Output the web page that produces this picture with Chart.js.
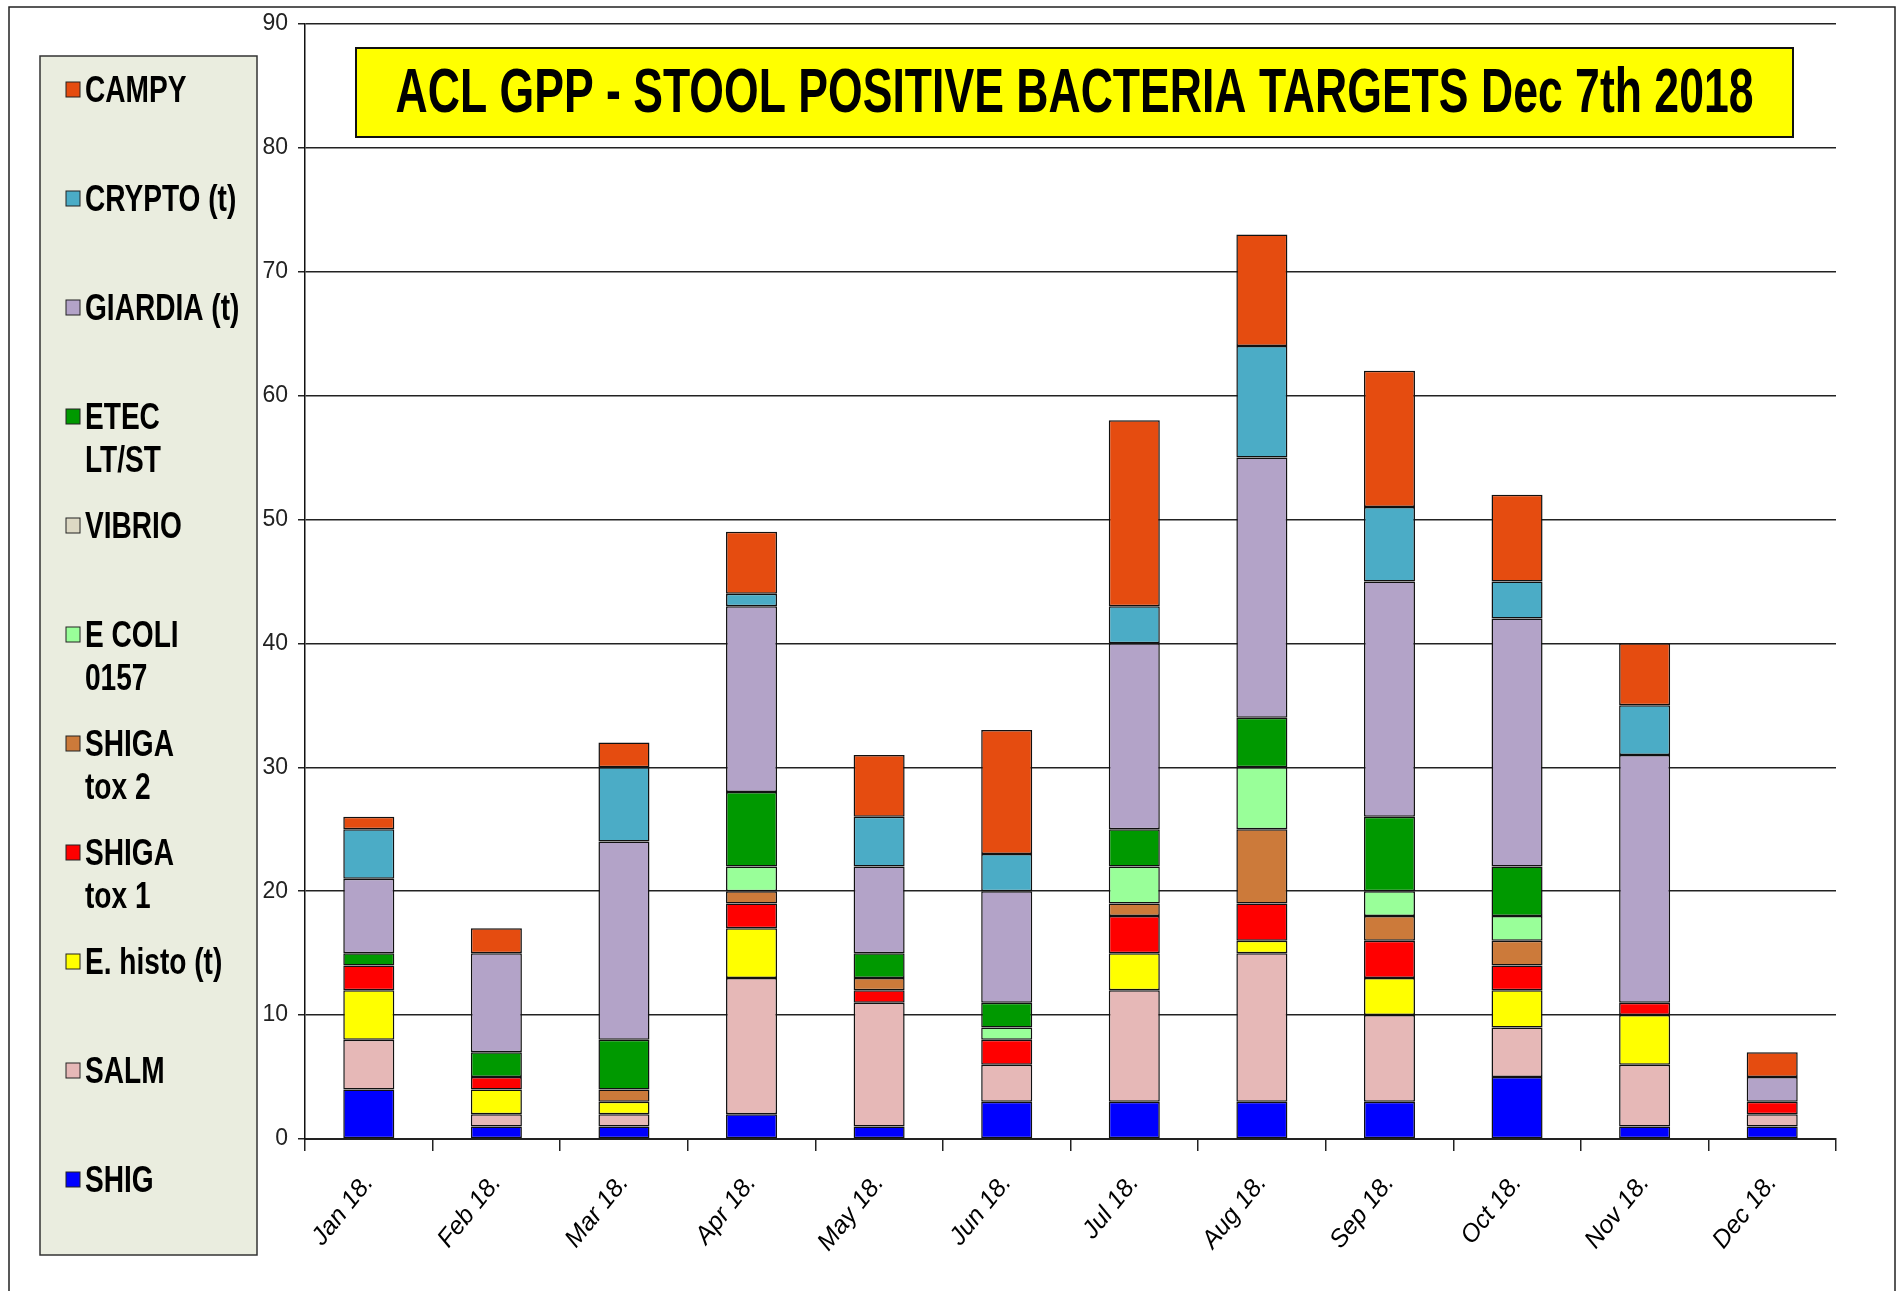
<!DOCTYPE html>
<html lang="en">
<head>
    <meta charset="UTF-8">
    <title>ACL GPP - Stool Positive Bacteria Targets</title>
    <script src="https://cdn.jsdelivr.net/npm/chart.js"></script>
    <style>
        body { margin: 0; background: #fff; }
        canvas { display: block; }
    </style>
</head>
<body>
    <canvas id="gppChart" width="1898" height="1291"></canvas>
    <script>
        const months = ['Jan 18.', 'Feb 18.', 'Mar 18.', 'Apr 18.', 'May 18.', 'Jun 18.',
                        'Jul 18.', 'Aug 18.', 'Sep 18.', 'Oct 18.', 'Nov 18.', 'Dec 18.'];

        // stacked bottom -> top
        const shig      = [4, 1, 1, 2, 1, 3, 3, 3, 3, 5, 1, 1];
        const salm      = [4, 1, 1, 11, 10, 3, 9, 12, 7, 4, 5, 1];
        const eHisto    = [4, 2, 1, 4, 0, 0, 3, 1, 3, 3, 4, 0];
        const shigaTox1 = [2, 1, 0, 2, 1, 2, 3, 3, 3, 2, 1, 1];
        const shigaTox2 = [0, 0, 1, 1, 1, 0, 1, 6, 2, 2, 0, 0];
        const eColi     = [0, 0, 0, 2, 0, 1, 3, 5, 2, 2, 0, 0];
        const vibrio    = [0, 0, 0, 0, 0, 0, 0, 0, 0, 0, 0, 0];
        const etec      = [1, 2, 4, 6, 2, 2, 3, 4, 6, 4, 0, 0];
        const giardia   = [6, 8, 16, 15, 7, 9, 15, 21, 19, 20, 20, 2];
        const crypto    = [4, 0, 6, 1, 4, 3, 3, 9, 6, 3, 4, 0];
        const campy     = [1, 2, 2, 5, 5, 10, 15, 9, 11, 7, 5, 2];

        const yTicks = [0, 10, 20, 30, 40, 50, 60, 70, 80, 90];
        const titleText = 'ACL GPP - STOOL POSITIVE BACTERIA TARGETS Dec 7th 2018';

        const series = [
            { label: 'SHIG', data: shig, color: '#0000FF' },
            { label: 'SALM', data: salm, color: '#E6B8B7' },
            { label: 'E. histo (t)', data: eHisto, color: '#FFFF00' },
            { label: 'SHIGA\ntox 1', data: shigaTox1, color: '#FF0000' },
            { label: 'SHIGA\ntox 2', data: shigaTox2, color: '#CC7A3A' },
            { label: 'E COLI\n0157', data: eColi, color: '#99FF99' },
            { label: 'VIBRIO', data: vibrio, color: '#DDD9C4' },
            { label: 'ETEC\nLT/ST', data: etec, color: '#009900' },
            { label: 'GIARDIA (t)', data: giardia, color: '#B3A3C8' },
            { label: 'CRYPTO (t)', data: crypto, color: '#4BACC6' },
            { label: 'CAMPY', data: campy, color: '#E54C10' }
        ];

        const FONT = "'Liberation Sans', Arial, sans-serif";

        // draws text squeezed horizontally, like Arial Narrow
        function narrowText(ctx, text, x, y, squeeze) {
            ctx.save();
            ctx.translate(x, y);
            ctx.scale(squeeze, 1);
            ctx.fillText(text, 0, 0);
            ctx.restore();
        }

        const framePlugin = {
            id: 'frame',
            beforeDraw(chart) {
                const ctx = chart.ctx;
                ctx.save();
                ctx.fillStyle = '#fff';
                ctx.fillRect(0, 0, chart.width, chart.height);
                ctx.strokeStyle = '#222';
                ctx.lineWidth = 1.5;
                ctx.strokeRect(9, 7, 1886, 1300);
                ctx.restore();
            }
        };

        const titlePlugin = {
            id: 'yellowTitle',
            afterDraw(chart) {
                const ctx = chart.ctx;
                const x = 356, y = 48, w = 1437, h = 89;
                ctx.save();
                ctx.fillStyle = '#FFFF00';
                ctx.fillRect(x, y, w, h);
                ctx.strokeStyle = '#111';
                ctx.lineWidth = 2;
                ctx.strokeRect(x, y, w, h);
                ctx.fillStyle = '#000';
                ctx.font = 'bold 63px ' + FONT;
                ctx.textBaseline = 'middle';
                ctx.textAlign = 'left';
                const tw = ctx.measureText(titleText).width;
                const target = 1358;
                narrowText(ctx, titleText, x + (w - target) / 2, y + h / 2 + 2, target / tw);
                ctx.restore();
            }
        };

        const legendPlugin = {
            id: 'sideLegend',
            afterDraw(chart) {
                const ctx = chart.ctx;
                ctx.save();
                ctx.fillStyle = '#EAEDDF';
                ctx.fillRect(40, 56, 217, 1199);
                ctx.strokeStyle = '#333';
                ctx.lineWidth = 1.5;
                ctx.strokeRect(40, 56, 217, 1199);

                const items = chart.data.datasets.slice().reverse();
                ctx.font = 'bold 36px ' + FONT;
                ctx.textBaseline = 'middle';
                ctx.textAlign = 'left';
                items.forEach((ds, i) => {
                    const cy = 90 + i * 109;
                    ctx.fillStyle = ds.backgroundColor;
                    ctx.fillRect(66, cy - 8, 14, 15);
                    ctx.strokeStyle = '#222';
                    ctx.lineWidth = 1;
                    ctx.strokeRect(66, cy - 8, 14, 15);
                    ctx.fillStyle = '#000';
                    ds.label.split('\n').forEach((line, j) => {
                        narrowText(ctx, line, 85, cy + 2 + j * 43, 0.78);
                    });
                });
                ctx.restore();
            }
        };

        const ctx = document.getElementById('gppChart').getContext('2d');
        new Chart(ctx, {
            type: 'bar',
            data: {
                labels: months,
                datasets: series.map(s => ({
                    label: s.label,
                    data: s.data.map(v => v === 0 ? null : v),
                    backgroundColor: s.color,
                    borderColor: '#111',
                    borderWidth: 1.5,
                    borderSkipped: false,
                    barPercentage: 0.4,
                    categoryPercentage: 1.0
                }))
            },
            options: {
                responsive: false,
                animation: false,
                devicePixelRatio: 1,
                layout: { padding: { left: 0, top: 22, right: 62, bottom: 0 } },
                plugins: {
                    legend: { display: false },
                    title: { display: false },
                    tooltip: { enabled: false }
                },
                scales: {
                    x: {
                        stacked: true,
                        afterFit: scale => { scale.height = 152; },
                        grid: {
                            offset: true,
                            drawOnChartArea: false,
                            drawTicks: true,
                            tickLength: 12,
                            color: '#222',
                            lineWidth: 1.5
                        },
                        border: { color: '#222', width: 2 },
                        ticks: {
                            color: '#000',
                            maxRotation: 51,
                            minRotation: 51,
                            padding: 18,
                            font: { family: FONT, size: 25, style: 'italic' }
                        }
                    },
                    y: {
                        stacked: true,
                        min: 0,
                        max: 90,
                        afterFit: scale => { scale.width = 305; },
                        afterBuildTicks: scale => {
                            scale.ticks = yTicks.map(v => ({ value: v }));
                        },
                        grid: {
                            color: '#222',
                            lineWidth: 1.5,
                            drawTicks: true,
                            tickLength: 7,
                            tickColor: '#222'
                        },
                        border: { color: '#111', width: 1.5 },
                        ticks: {
                            color: '#222',
                            padding: 10,
                            font: { family: FONT, size: 23 }
                        }
                    }
                }
            },
            plugins: [framePlugin, titlePlugin, legendPlugin]
        });
    </script>
</body>
</html>
